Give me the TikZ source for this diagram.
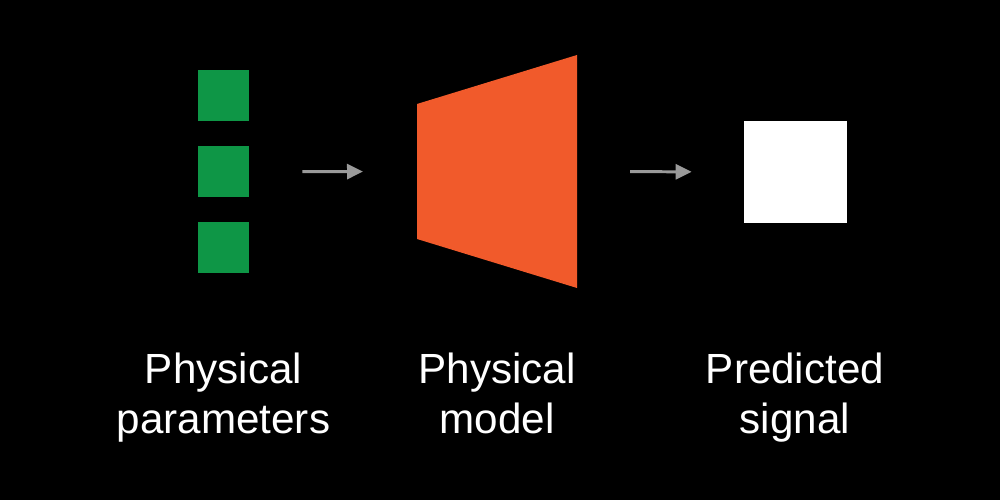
\documentclass[tikz,border=0pt]{standalone}
\usepackage{fontspec}
\setmainfont{Liberation Sans}
\usetikzlibrary{positioning,calc,arrows.meta}
\definecolor{paramgreen}{RGB}{14,150,70}
\definecolor{modelorange}{RGB}{241,90,43}
\definecolor{arrowgray}{RGB}{154,154,154}

\begin{document}
\begin{tikzpicture}[node distance=0.48cm,
  font=\fontsize{24}{28.5}\selectfont,
  param/.style={fill=paramgreen, minimum size=1.02cm, inner sep=0pt},
  caption/.style={text=white, align=center, anchor=base},
  flow/.style={arrowgray, line width=1.7pt, -{Triangle[length=0.32cm,width=0.3cm]}}]
    \fill[black] (0,0) rectangle (20,10);
    \useasboundingbox (0,0) rectangle (20,10);
    %
    \node[param] (p1) at (4.47,8.08) {};
    \node[param, below=of p1] (p2) {};
    \node[param, below=of p2] (p3) {};
    %
    \coordinate (m_nw) at (8.34,7.92);
    \coordinate (m_sw) at (8.34,5.22);
    \coordinate (m_ne) at (11.54,8.9);
    \coordinate (m_se) at (11.54,4.24);
    \fill[modelorange] (m_nw) -- (m_ne) -- (m_se) -- (m_sw) -- cycle;
    \coordinate (m_w) at ($(m_nw)!0.5!(m_sw)$);
    \coordinate (m_e) at ($(m_ne)!0.5!(m_se)$);
    %
    \node[fill=white, minimum width=2.06cm, minimum height=2.04cm, inner sep=0pt] (sig) at (15.91,6.56) {};
    %
    \draw[flow, shorten <=1.06cm, shorten >=1.08cm] (p2.east) -- (m_w);
    \draw[flow, shorten <=1.06cm, shorten >=1.04cm] (m_e) -- (sig.west);
    %
    \node[caption] (lp) at (4.47,1.32) {Physical\\parameters};
    \node[caption] (lm) at (9.94,1.32) {Physical\\model};
    \node[caption] (ls) at (15.9,1.32) {Predicted\\signal};
  \end{tikzpicture}
\end{document}
